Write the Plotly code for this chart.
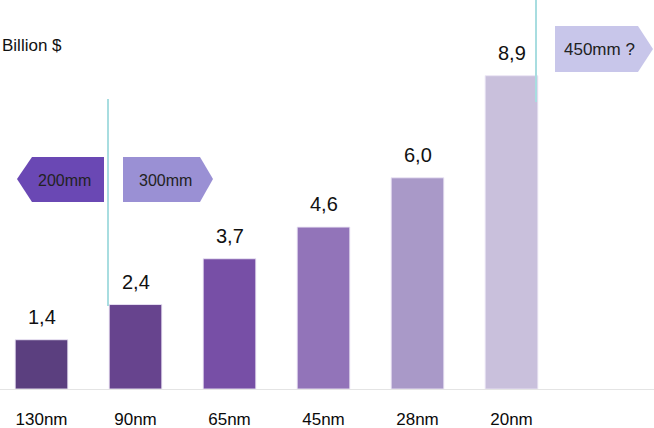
import plotly.graph_objects as go

categories = ["130nm", "90nm", "65nm", "45nm", "28nm", "20nm"]
values = [1.4, 2.4, 3.7, 4.6, 6.0, 8.9]
bar_colors = ["#5b3f7f", "#67448e", "#774fa6", "#9274b9", "#a999c8", "#c9c0dc"]
unit_label = "Billion $"
wafer_labels = ["200mm", "300mm", "450mm ?"]

W, H = 654, 428
MB = 39
PH = H - MB
FONT = "Liberation Sans, Arial, sans-serif"


def px(x):
    return x / W


def py(y):
    return (PH - y) / PH


def path(points):
    return "M " + " L ".join(f"{px(x):.5f},{py(y):.5f}" for x, y in points) + " Z"


fig = go.Figure()
fig.add_trace(go.Bar(
    x=categories, y=values,
    marker=dict(color=bar_colors, line=dict(color="rgba(235,230,245,0.9)", width=1)),
    width=0.56,
    hoverinfo="skip",
))

annotations = []
for c, v in zip(categories, values):
    annotations.append(dict(
        x=c, y=v, xref="x", yref="y", text=f"{v:.1f}".replace(".", ","),
        showarrow=False, yanchor="bottom", yshift=10,
        font=dict(family=FONT, size=20, color="#111111"),
    ))

annotations.append(dict(
    x=px(0), y=py(46), xref="paper", yref="paper", text=unit_label,
    showarrow=False, xanchor="left", yanchor="middle",
    font=dict(family=FONT, size=17, color="#111111"),
))

shapes = []
# 200mm arrow (left-pointing)
shapes.append(dict(type="path", xref="paper", yref="paper",
                   path=path([(17, 179), (32, 157), (104, 157), (104, 202), (32, 202)]),
                   fillcolor="#6a48b4", line=dict(width=0), layer="above"))
# 300mm arrow (right-pointing)
shapes.append(dict(type="path", xref="paper", yref="paper",
                   path=path([(123, 157), (200, 157), (213, 179), (200, 202), (123, 202)]),
                   fillcolor="#9a90d4", line=dict(width=0), layer="above"))
# 450mm arrow (right-pointing)
shapes.append(dict(type="path", xref="paper", yref="paper",
                   path=path([(555, 26), (638, 26), (653, 49), (638, 72), (555, 72)]),
                   fillcolor="#c8c6ea", line=dict(width=0), layer="above"))
# vertical cyan lines
shapes.append(dict(type="line", xref="paper", yref="paper",
                   x0=px(108), x1=px(108), y0=py(99), y1=py(306),
                   line=dict(color="#a8dde0", width=2)))
shapes.append(dict(type="line", xref="paper", yref="paper",
                   x0=px(536), x1=px(536), y0=py(0), y1=py(102),
                   line=dict(color="#a8dde0", width=2)))

for txt, (x, y), s in zip(wafer_labels, [(64, 180), (165, 180), (599, 49)], [16, 16, 17]):
    annotations.append(dict(
        x=px(x), y=py(y), xref="paper", yref="paper", text=txt,
        showarrow=False, xanchor="center", yanchor="middle",
        font=dict(family=FONT, size=s, color="#222222"),
    ))

r0 = -41.5 / 94
r1 = r0 + W / 94
fig.update_layout(
    width=W, height=H,
    margin=dict(l=0, r=0, t=0, b=MB),
    plot_bgcolor="white", paper_bgcolor="white",
    showlegend=False,
    xaxis=dict(range=[r0, r1], showgrid=False, zeroline=False, showline=True,
               linecolor="#e4e4e4", linewidth=1, ticks="", ticklen=0,
               ticklabelstandoff=15, automargin=False,
               tickfont=dict(family=FONT, size=17, color="#0a0a0a"),
               fixedrange=True),
    yaxis=dict(range=[0, PH / 35.2], visible=False, fixedrange=True, automargin=False),
    annotations=annotations,
    shapes=shapes,
)

fig.write_html("out.html", config={"displayModeBar": False},
               post_script="document.body.style.margin='0';")
